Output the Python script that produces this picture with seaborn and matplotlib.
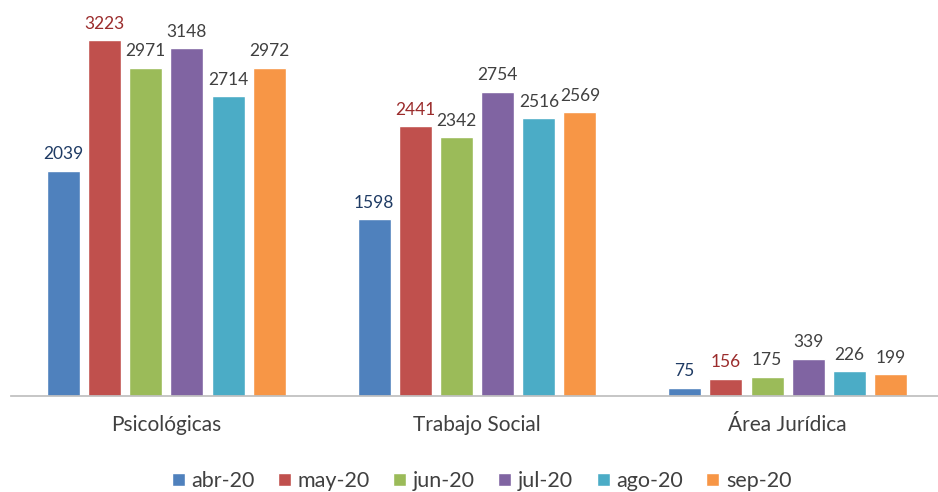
import matplotlib
matplotlib.use("Agg")
import matplotlib.pyplot as plt
import seaborn as sns
import pandas as pd

categories = ["Psicológicas", "Trabajo Social", "Área Jurídica"]
months = ["abr-20", "may-20", "jun-20", "jul-20", "ago-20", "sep-20"]
abr = [2039, 1598, 75]
may = [3223, 2441, 156]
jun = [2971, 2342, 175]
jul = [3148, 2754, 339]
ago = [2714, 2516, 226]
sep = [2972, 2569, 199]

series = [abr, may, jun, jul, ago, sep]
colors = ["#4F81BD", "#C0504D", "#9BBB59", "#8064A2", "#4BACC6", "#F79646"]
label_colors = ["#1F3B64", "#9B2C2C", "#404040", "#404040", "#404040", "#404040"]

rows = []
for m, vals in zip(months, series):
    for c, v in zip(categories, vals):
        rows.append({"cat": c, "month": m, "value": v})
df = pd.DataFrame(rows)

sns.set_theme(style="white")
plt.rcParams["font.family"] = ["Lato", "DejaVu Sans"]

fig = plt.figure(figsize=(9.38, 4.92), dpi=100)
ax = fig.add_axes([11 / 938, 1 - 396 / 492, 932 / 938, 376 / 492])
sns.barplot(data=df, x="cat", y="value", hue="month", order=categories,
            hue_order=months, palette=colors, width=0.7955, gap=0.2,
            saturation=1, ax=ax, legend=True)

for cont, lc in zip(ax.containers, label_colors):
    ax.bar_label(cont, fmt="%d", padding=6, color=lc, fontsize=12.5)

ax.set_ylim(0, 3403)
ax.set_xlim(-0.5, 2.5)
ax.set_xlabel("")
ax.set_ylabel("")
ax.set_yticks([])
for s in ["top", "left", "right"]:
    ax.spines[s].set_visible(False)
ax.spines["bottom"].set_color("#BFBFBF")
ax.tick_params(axis="x", length=0, pad=14, labelsize=15, labelcolor="#404040")

handles, labels = ax.get_legend_handles_labels()
ax.legend(handles, labels, loc="center", bbox_to_anchor=(0.5 + 4.5 / 932, (396 - 481) / 376),
          ncol=6, frameon=False, fontsize=15.5, handlelength=0.6, handleheight=0.6,
          handletextpad=0.3, columnspacing=1.1, labelcolor="#404040")

fig.savefig("out.png", dpi=100)
